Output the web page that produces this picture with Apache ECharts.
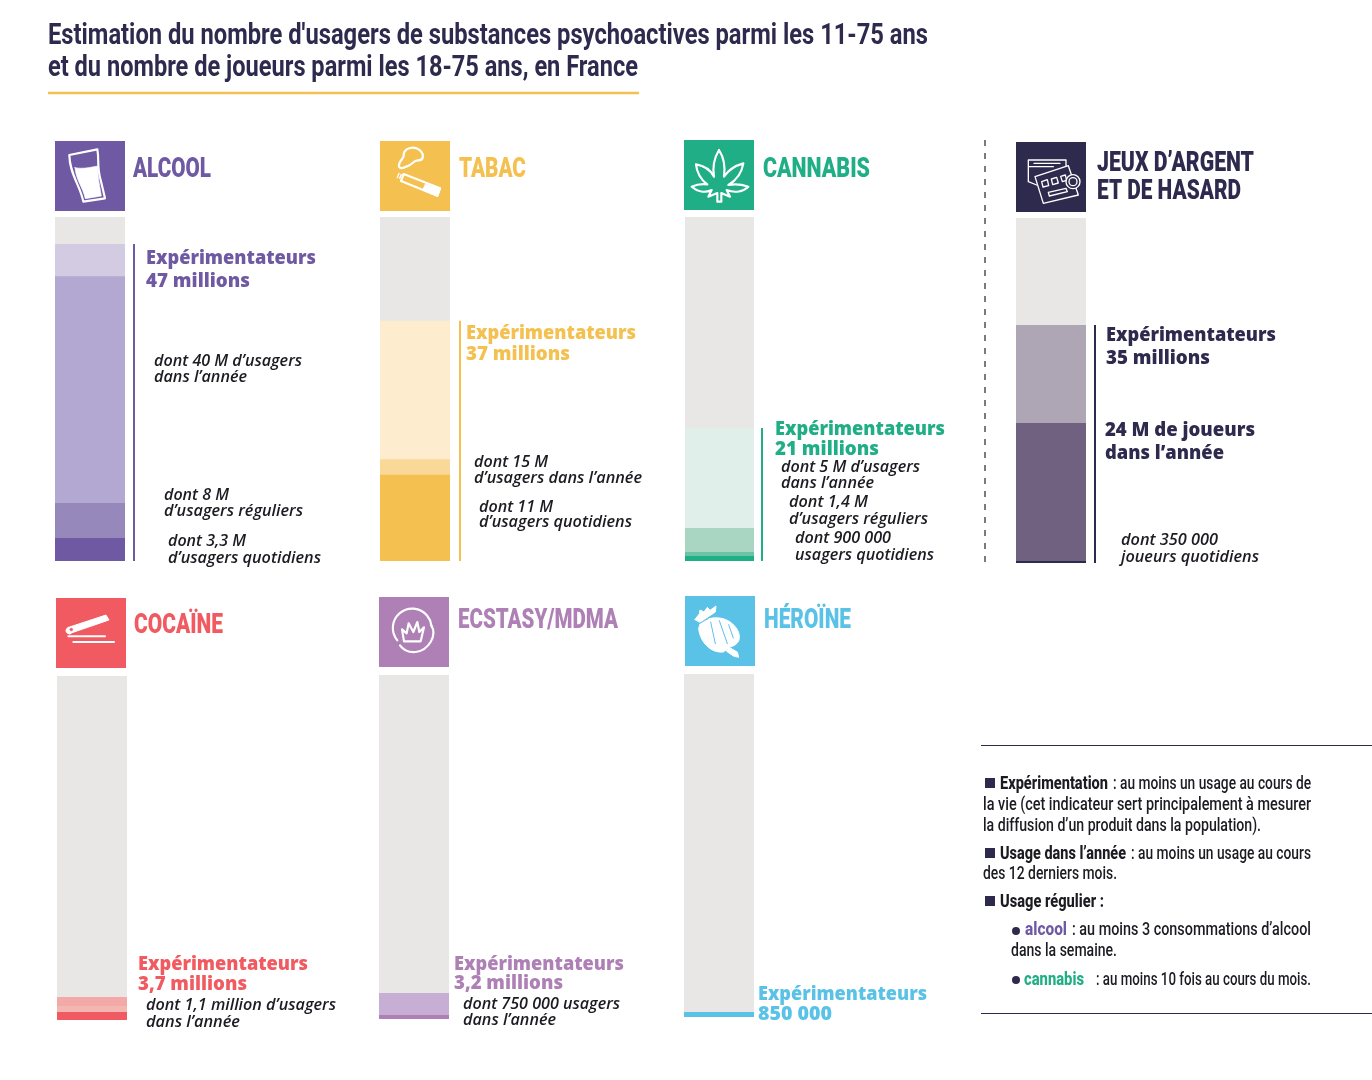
<!DOCTYPE html>
<html>
<head>
<meta charset="utf-8">
<title>Usagers de substances psychoactives</title>
<script src="https://cdn.jsdelivr.net/npm/echarts@6/dist/echarts.min.js"></script>
<style>
  html, body { margin: 0; padding: 0; background: #fff; }
  #main { width: 1372px; height: 1080px; }
</style>
</head>
<body>
<div id="main"></div>
<script>
var population = 51;
var alcool = [47, 42.2, 8.6, 3.4];
var tabac = [35.6, 15.1, 12.8];
var cannabis = [19.7, 4.9, 1.33, 0.74];
var jeux = [35.2, 20.7, 0.3];
var cocaine = [3.4, 2.08, 1.19];
var ecstasy = [3.85, 0.6];
var heroine = [0.74];

var names = ['ALCOOL', 'TABAC', 'CANNABIS', 'JEUX', 'COCAÏNE', 'ECSTASY/MDMA', 'HÉROÏNE'];
var values = [alcool, tabac, cannabis, jeux, cocaine, ecstasy, heroine];
var levels = ['Expérimentateurs', 'Usage dans l\'année', 'Usage régulier', 'Usage quotidien'];

var TRACK = '#e8e7e5';
var DARK = '#2e2a4e';
var TEXT = '#1d1b22';
var PURPLE = '#7059a3', YELLOW = '#f4c050', GREEN = '#1fae85', RED = '#f05a60', MAUVE = '#ae80b6', BLUE = '#5bc2e7';

var palettes = [
  ['#d3cbe2', '#b3a8d1', '#9788bc', '#7059a3'],
  ['#feecce', '#fad898', '#f4c050'],
  ['#e0efe9', '#a9d5c3', '#6cc4a7', '#1fae85'],
  ['#aea5b5', '#706180', '#2e2a4e'],
  ['#f2a9a7', '#f4b6b1', '#ef5a63'],
  ['#c7aed4', '#ae80b6'],
  ['#5bc2e7']
];

// position de chaque barre
var rects = [
  [55, 217, 70, 344],
  [380, 217, 70, 344],
  [685, 217, 69, 344],
  [1016, 218, 70, 345],
  [57, 676, 70, 344],
  [379, 675, 70, 344],
  [684, 674, 70, 343]
];

var grids = [], xAxes = [], yAxes = [], series = [];
rects.forEach(function (r, i) {
  grids.push({ left: r[0], top: r[1], width: r[2], height: r[3] });
  xAxes.push({ type: 'category', gridIndex: i, show: false, data: [names[i]] });
  yAxes.push({ type: 'value', gridIndex: i, show: false, min: 0, max: population });
  series.push({
    type: 'bar', name: 'Population', xAxisIndex: i, yAxisIndex: i, barWidth: '100%', barGap: '-100%',
    data: [population], itemStyle: { color: TRACK }, silent: true
  });
  values[i].forEach(function (v, k) {
    series.push({
      type: 'bar', name: levels[k], xAxisIndex: i, yAxisIndex: i, barWidth: '100%', barGap: '-100%',
      data: [v], itemStyle: { color: palettes[i][k] }, silent: true
    });
  });
});

var chart = echarts.init(document.getElementById('main'));
chart.setOption({
  backgroundColor: '#fff',
  animation: false,
  tooltip: { show: false },
  grid: grids,
  xAxis: xAxes,
  yAxis: yAxes,
  series: series
});

var ctx = document.createElement('canvas').getContext('2d');
var g = [];

// texte resserre pour tenir entre x0 et x1
function txt(text, x0, x1, y, font, color) {
  ctx.font = font;
  g.push({
    type: 'text', silent: true, x: x0, y: y + (font === NAME ? 2 : 1), scaleX: (x1 - x0) / ctx.measureText(text).width,
    style: { text: text, font: font, fill: color, verticalAlign: 'middle', align: 'left' }
  });
}
function box(x, y, w, h, color) {
  g.push({ type: 'rect', silent: true, shape: { x: x, y: y, width: w, height: h }, style: { fill: color } });
}
function line(x1, y1, x2, y2, color, width, dash) {
  g.push({
    type: 'line', silent: true, shape: { x1: x1, y1: y1, x2: x2, y2: y2 },
    style: { stroke: color, lineWidth: width, lineDash: dash || null }
  });
}

// dessin des pictos, en coordonnees de la zone agrandie 3x
var iconCount = 0;
function icon(ox, oy, paths) {
  g.push({
    type: 'group', silent: true, x: ox, y: oy, scaleX: 1 / 3, scaleY: 1 / 3,
    children: paths.map(function (p) {
      var shapeName = 'picto' + (iconCount++);
      echarts.graphic.registerShape(shapeName, echarts.graphic.extendPath(p[0], {}));
      return {
        type: shapeName, silent: true,
        style: { fill: p[1] || 'none', stroke: p[2] === undefined ? '#fff' : p[2], lineWidth: p[3] || 6.5, lineJoin: 'round', lineCap: 'round' }
      };
    })
  });
}

var TITLE = 'bold 30px Roboto', NAME = '900 27px Roboto';
var HEAD = '800 20px "Open Sans"', SUB = 'italic 600 16px "Open Sans"';
var NOTE = '500 18px Roboto', NOTEB = '800 18px Roboto';

txt("Estimation du nombre d'usagers de substances psychoactives parmi les 11-75 ans", 48, 928, 35, TITLE, DARK);
txt("et du nombre de joueurs parmi les 18-75 ans, en France", 48, 638, 67, TITLE, DARK);
line(48, 93, 639, 93, YELLOW, 2.5);

// carres des pictos
box(55, 141, 70, 70, PURPLE);
box(380, 141, 70, 70, YELLOW);
box(684, 140, 70, 70, GREEN);
box(1016, 142, 70, 70, DARK);
box(56, 598, 70, 70, RED);
box(379, 597, 70, 70, MAUVE);
box(685, 596, 70, 70, BLUE);

icon(40, 130, [
  ['M88 75 L172 58 C178 90 170 110 182 150 L195 205 L130 215 C122 170 88 130 88 75 Z'],
  ['M105 113 C130 118 150 112 174 108 C172 130 176 150 184 198 L136 206 C128 170 108 150 105 113 Z', '#fff', '#fff', 2]
]);
icon(375, 135, [
  ['M73 97 C66 78 90 72 86 58 C88 40 115 32 132 44 C150 58 146 78 128 76 C115 76 112 90 96 94 C88 98 78 102 73 97 Z'],
  ['M86 117 L195 160 L187 182 L78 138 Z'],
  ['M152 150 L195 160 L187 182 L146 164 Z', '#fff'],
  ['M72 115 L67 128 M79 118 L74 130', null, '#fff', 4]
]);
icon(680, 135, [
  ['M117 45 C130 65 137 90 132 125 C145 105 165 92 190 85 C186 110 170 135 145 150 C165 146 185 148 205 155 C190 170 165 175 140 165 L150 185 L124 174 L124 200 L112 200 L112 174 L85 185 L95 165 C75 175 52 170 35 155 C50 148 65 146 82 148 C62 135 50 110 48 88 C72 92 92 105 102 125 C97 95 105 65 117 45 Z']
]);
icon(50, 592, [
  ['M56 106 L168 69 L177 84 L66 122 A10 10 0 1 1 56 106 Z', '#fff', '#fff', 3],
  ['M60 112 A4 4 0 1 1 60 113 Z', RED, RED, 2],
  ['M55 133 L165 133 M70 150 L192 150', null, '#fff', 6]
]);
icon(374, 592, [
  ['M70 145 A58 58 0 1 1 172 100'],
  ['M172 100 C190 130 165 175 125 180 C100 182 85 170 78 160'],
  ['M90 148 L84 112 L98 124 L104 94 L118 120 L130 90 L136 120 L150 106 L140 148 Z'],
  ['M84 102 L84 102 M104 86 L104 86 M132 82 L132 82 M152 96 L152 96', null, '#fff', 11]
]);
icon(680, 592, [
  ['M62 92 C105 62 160 80 176 122 C184 150 168 160 148 166 L130 180 C92 184 60 150 56 110 Z', '#fff', '#fff', 3],
  ['M145 165 L172 180 L176 196 L160 192 L140 178 Z', '#fff', '#fff', 3],
  ['M45 82 L58 66 L60 54 L72 60 L82 46 L90 55 L108 42 L106 60 L85 74 L60 90 Z', '#fff', '#fff', 3],
  ['M92 90 L106 155 M118 86 L142 155 M146 98 L160 138', null, BLUE, 3],
  ['M56 96 L84 80', null, BLUE, 3]
]);
icon(1010, 135, [
  ['M55 75 L168 75 L168 92 M55 75 L55 140 L80 150 M55 95 L130 95 M72 85 L150 85', null, '#fff', 4],
  ['M75 125 L175 92 L205 180 L100 205 Z', DARK, '#fff', 4],
  ['M95 140 L112 134 L116 152 L99 156 Z M124 132 L140 127 L145 144 L128 149 Z M152 124 L166 120 L170 136 L157 140 Z', null, '#fff', 4],
  ['M115 172 L168 160 L172 170 L118 183 Z', null, '#fff', 4],
  ['M210 140 A21 21 0 1 1 168 140 A21 21 0 1 1 210 140 Z', DARK, '#fff', 4],
  ['M201 140 A12 12 0 1 1 177 140 A12 12 0 1 1 201 140 Z', null, '#fff', 4]
]);

// noms
txt('ALCOOL', 133, 211, 168, NAME, PURPLE);
txt('TABAC', 459, 526, 168, NAME, YELLOW);
txt('CANNABIS', 763, 870, 168, NAME, GREEN);
txt("JEUX D’ARGENT", 1097, 1254, 162, NAME, DARK);
txt('ET DE HASARD', 1097, 1241, 190, NAME, DARK);
txt('COCAÏNE', 134, 223, 624, NAME, RED);
txt('ECSTASY/MDMA', 458, 618, 619, NAME, MAUVE);
txt('HÉROÏNE', 764, 851, 619, NAME, BLUE);

// libelles alcool
txt('Expérimentateurs', 146, 316, 257, HEAD, PURPLE);
txt('47 millions', 146, 250, 280, HEAD, PURPLE);
txt('dont 40 M d’usagers', 154, 302, 360, SUB, TEXT);
txt('dans l’année', 154, 247, 376, SUB, TEXT);
txt('dont 8 M', 164, 229, 494, SUB, TEXT);
txt('d’usagers réguliers', 164, 303, 510, SUB, TEXT);
txt('dont 3,3 M', 168, 246, 540, SUB, TEXT);
txt('d’usagers quotidiens', 168, 321, 557, SUB, TEXT);

// libelles tabac
txt('Expérimentateurs', 466, 636, 332, HEAD, YELLOW);
txt('37 millions', 466, 570, 353, HEAD, YELLOW);
txt('dont 15 M', 474, 548, 461, SUB, TEXT);
txt('d’usagers dans l’année', 474, 642, 477, SUB, TEXT);
txt('dont 11 M', 479, 553, 506, SUB, TEXT);
txt('d’usagers quotidiens', 479, 632, 521, SUB, TEXT);

// libelles cannabis
txt('Expérimentateurs', 775, 945, 428, HEAD, GREEN);
txt('21 millions', 775, 879, 448, HEAD, GREEN);
txt('dont 5 M d’usagers', 781, 920, 466, SUB, TEXT);
txt('dans l’année', 781, 874, 482, SUB, TEXT);
txt('dont 1,4 M', 789, 868, 501, SUB, TEXT);
txt('d’usagers réguliers', 789, 928, 518, SUB, TEXT);
txt('dont 900 000', 795, 891, 537, SUB, TEXT);
txt('usagers quotidiens', 795, 934, 554, SUB, TEXT);

// libelles jeux
txt('Expérimentateurs', 1106, 1276, 334, HEAD, DARK);
txt('35 millions', 1106, 1210, 357, HEAD, DARK);
txt('24 M de joueurs', 1105, 1255, 429, HEAD, DARK);
txt('dans l’année', 1105, 1224, 452, HEAD, DARK);
txt('dont 350 000', 1121, 1218, 539, SUB, TEXT);
txt('joueurs quotidiens', 1121, 1259, 556, SUB, TEXT);

// libelles du bas
txt('Expérimentateurs', 138, 308, 963, HEAD, RED);
txt('3,7 millions', 138, 247, 983, HEAD, RED);
txt('dont 1,1 million d’usagers', 146, 336, 1004, SUB, TEXT);
txt('dans l’année', 146, 240, 1021, SUB, TEXT);
txt('Expérimentateurs', 454, 624, 963, HEAD, MAUVE);
txt('3,2 millions', 454, 563, 982, HEAD, MAUVE);
txt('dont 750 000 usagers', 463, 620, 1003, SUB, TEXT);
txt('dans l’année', 463, 556, 1019, SUB, TEXT);
txt('Expérimentateurs', 758, 927, 993, HEAD, BLUE);
txt('850 000', 758, 832, 1013, HEAD, BLUE);

// traits verticaux : le haut vient de l'echelle de chaque barre
function bracket(i, x, color) {
  var top = chart.convertToPixel({ yAxisIndex: i }, values[i][0]);
  line(x, top, x, rects[i][1] + rects[i][3], color, 2);
}
bracket(0, 134, PURPLE);
bracket(1, 460, YELLOW);
bracket(2, 762, GREEN);
bracket(3, 1095, DARK);

line(985, 140, 985, 566, '#444', 1.4, [6, 7]);

// encadre des definitions
line(981, 745.5, 1372, 745.5, DARK, 1);
line(981, 1013.5, 1372, 1013.5, DARK, 1);
box(985, 778, 10, 10, DARK);
txt('Expérimentation', 1000, 1108, 783, NOTEB, TEXT);
txt(': au moins un usage au cours de', 1113, 1311, 783, NOTE, TEXT);
txt('la vie (cet indicateur sert principalement à mesurer', 983, 1311, 804, NOTE, TEXT);
txt('la diffusion d’un produit dans la population).', 983, 1261, 825, NOTE, TEXT);
box(985, 848, 10, 10, DARK);
txt('Usage dans l’année', 1000, 1126, 853, NOTEB, TEXT);
txt(': au moins un usage au cours', 1131, 1311, 853, NOTE, TEXT);
txt('des 12 derniers mois.', 983, 1117, 873, NOTE, TEXT);
box(985, 896, 10, 10, DARK);
txt('Usage régulier :', 1000, 1104, 901, NOTEB, TEXT);
g.push({ type: 'circle', silent: true, shape: { cx: 1016, cy: 931, r: 4 }, style: { fill: DARK } });
txt('alcool', 1025, 1067, 929, NOTEB, PURPLE);
txt(': au moins 3 consommations d’alcool', 1072, 1311, 929, NOTE, TEXT);
txt('dans la semaine.', 1011, 1117, 950, NOTE, TEXT);
g.push({ type: 'circle', silent: true, shape: { cx: 1016, cy: 980, r: 4 }, style: { fill: DARK } });
txt('cannabis', 1024, 1084, 979, NOTEB, GREEN);
txt(': au moins 10 fois au cours du mois.', 1096, 1311, 979, NOTE, TEXT);

chart.setOption({ graphic: { elements: g } });
</script>
</body>
</html>
